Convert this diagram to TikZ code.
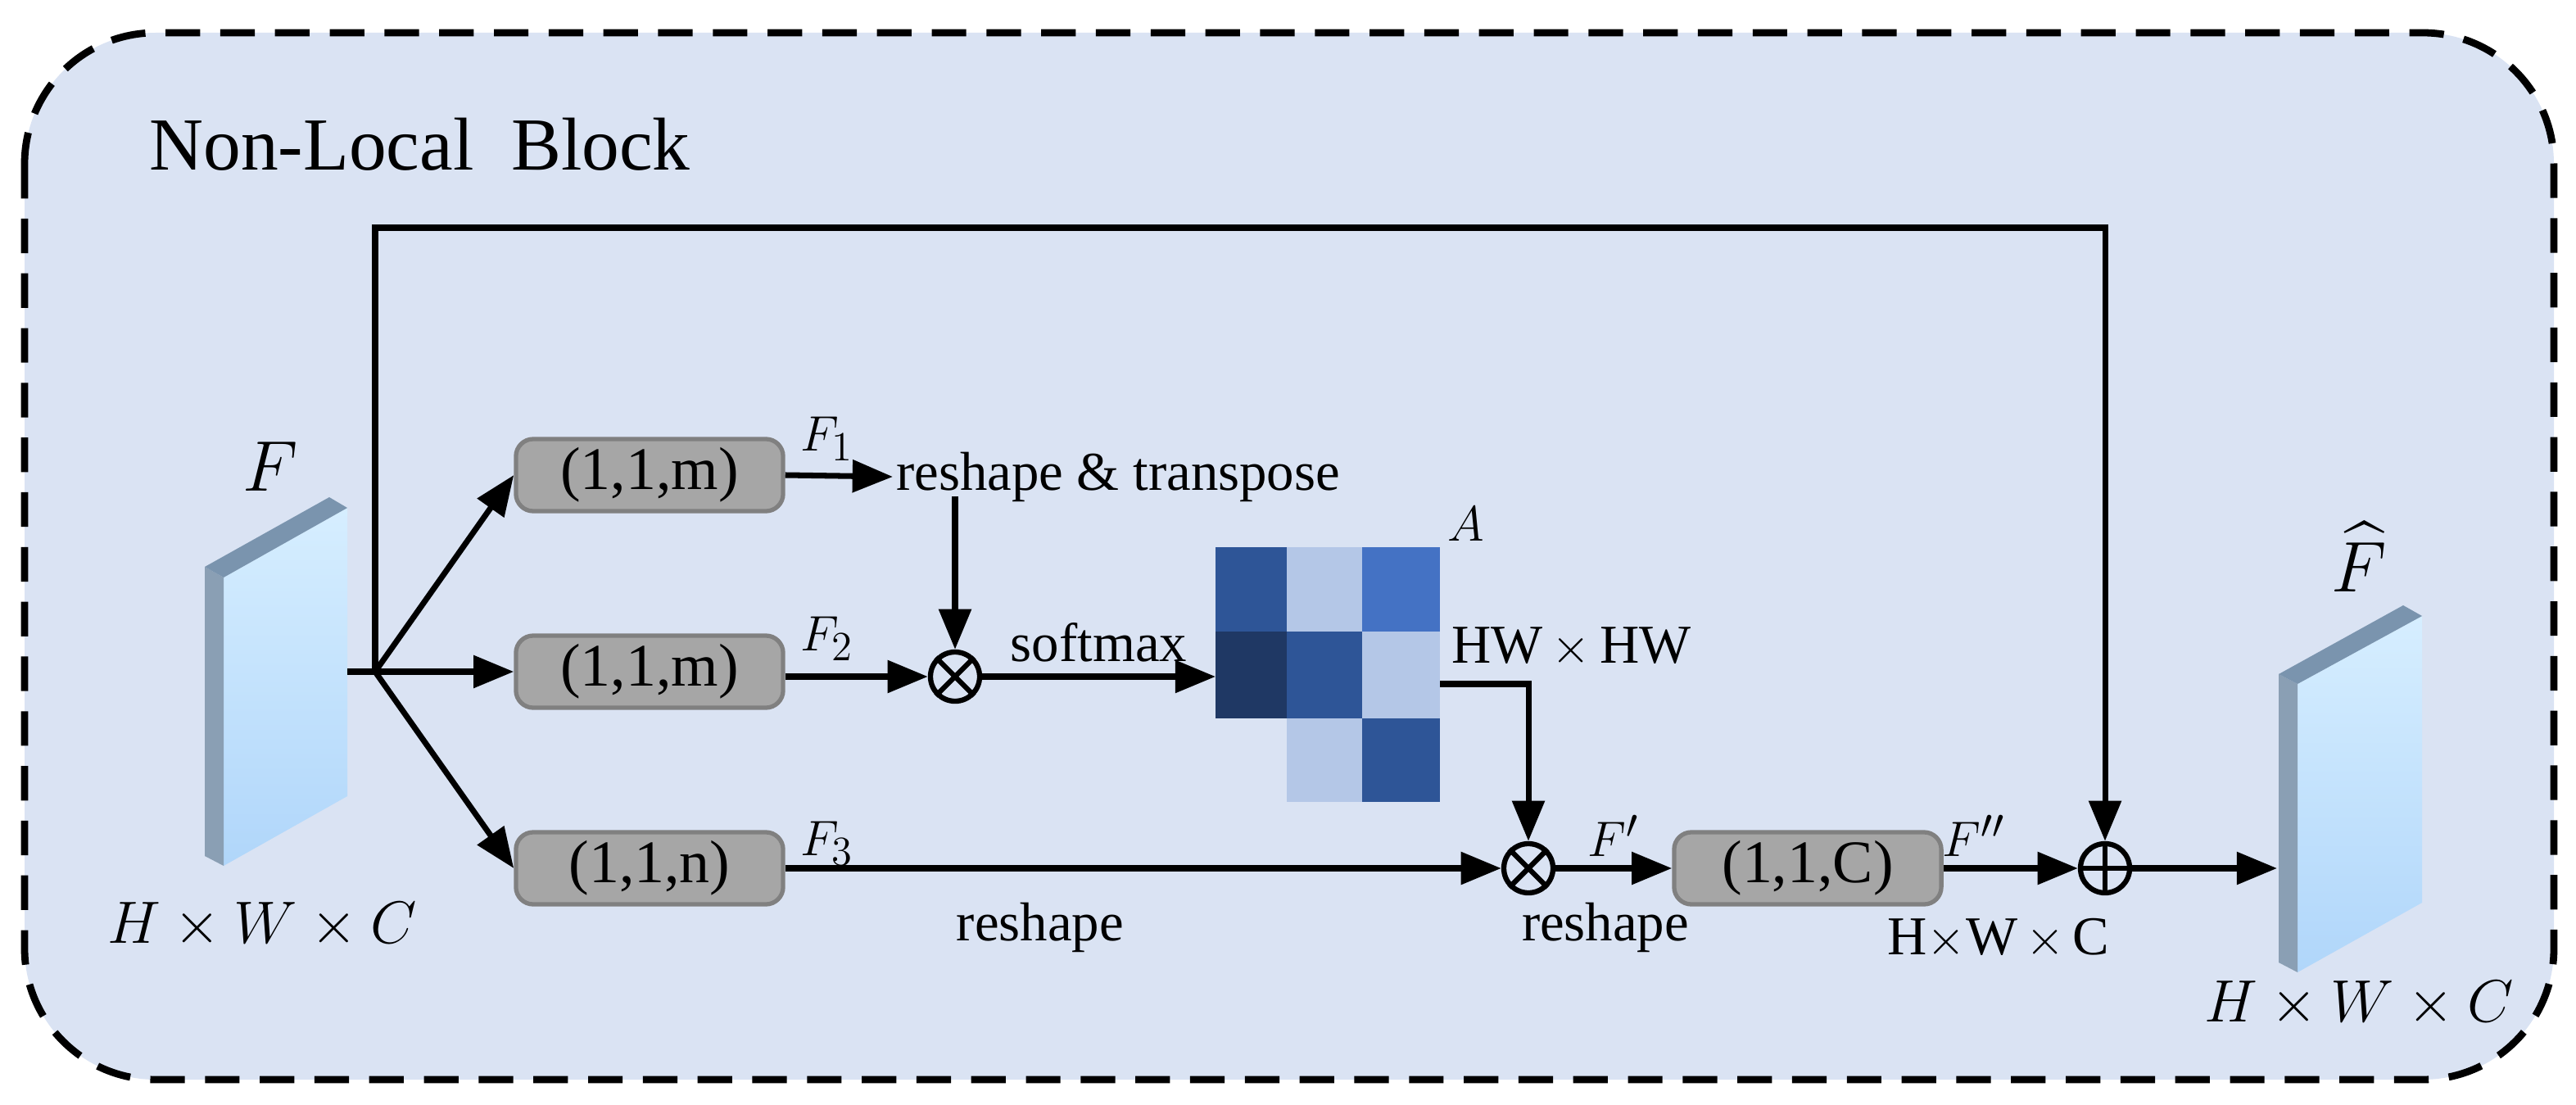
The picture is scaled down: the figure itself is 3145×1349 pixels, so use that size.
\documentclass[tikz,border=0pt]{standalone}
\usepackage{fontspec}
\setmainfont{Liberation Serif}
\usepackage{amsmath}
\usetikzlibrary{arrows.meta}
\definecolor{bg}{HTML}{DAE3F3}
\definecolor{c1}{HTML}{1F3864}
\definecolor{c2}{HTML}{2E5597}
\definecolor{c3}{HTML}{B4C7E7}
\definecolor{c4}{HTML}{4472C4}
\definecolor{sideA}{HTML}{8A9FB4}
\definecolor{topA}{HTML}{7A94AE}
\definecolor{frontT}{HTML}{D6EEFF}
\definecolor{frontB}{HTML}{B0D6FA}
\begin{document}
\begin{tikzpicture}[x=0.01cm,y=-0.01cm,
  box/.style={draw=black!50,fill=black!35,rounded corners=6pt,line width=1.5pt,minimum width=3.26cm,minimum height=0.88cm,inner sep=0pt,font=\fontsize{21}{24}\selectfont},
  lbl/.style={font=\fontsize{19}{23}\selectfont,inner sep=1pt},
  arr/.style={line width=2pt,-{Triangle[length=14pt,width=11pt]}},
  ln/.style={line width=2pt},
  op/.style={circle,draw,line width=1.8pt,minimum size=0.6cm,inner sep=0pt},
  cell/.style={draw=none}]
\useasboundingbox (0,0) rectangle (3145,1349);
\draw[fill=bg,draw=black,line width=2.5pt,dash pattern=on 12pt off 7pt,rounded corners=1.6cm] (30,40) rectangle (3118,1318);
\node[font=\fontsize{26}{30}\selectfont,anchor=west] (title) at (170,176) {Non-Local\ \ Block};
% left slab
\shade[top color=frontT,bottom color=frontB] (273,705) -- (424,620) -- (424,972) -- (273,1057) -- cycle;
\fill[sideA] (250,692) -- (273,705) -- (273,1057) -- (250,1045) -- cycle;
\fill[topA] (250,692) -- (402,607) -- (424,620) -- (273,705) -- cycle;
\node[lbl,font=\fontsize{23}{26}\selectfont] (Fl) at (330,570) {$F$};
\node[lbl,font=\fontsize{22}{26}\selectfont] (HWC1) at (320,1130) {$H\times W\times C$};
% right slab
\shade[top color=frontT,bottom color=frontB] (2805,835) -- (2957,752) -- (2957,1102) -- (2805,1187) -- cycle;
\fill[sideA] (2782,823) -- (2805,835) -- (2805,1187) -- (2782,1175) -- cycle;
\fill[topA] (2782,823) -- (2934,739) -- (2957,752) -- (2805,835) -- cycle;
\node[lbl,font=\fontsize{23}{26}\selectfont] (Fh) at (2880,680) {$\widehat{F}$};
\node[lbl,font=\fontsize{22}{26}\selectfont] (HWC3) at (2880,1226) {$H\times W\times C$};
\coordinate (slabR) at (2780,1060);
\coordinate (slabL) at (424,820);
% boxes
\node[box] (b1) at (793,580) {(1,1,m)};
\node[box] (b2) at (793,820) {(1,1,m)};
\node[box] (b3) at (793,1060) {(1,1,n)};
\node[box] (b4) at (2207,1060) {(1,1,C)};
\coordinate (br) at (458,820);
\draw[ln] (slabL) -- (br);
\draw[arr] (br) -- (b1.west);
\draw[arr] (br) -- (b2.west);
\draw[arr] (br) -- (b3.west);
% skip connection
\coordinate (tl) at (458,278);
\coordinate (tr) at (2570,278);
\node[op] (plus) at (2570,1060) {};
\draw[line width=1.8pt] (plus.north) -- (plus.south) (plus.west) -- (plus.east);
\draw[arr] (br) -- (tl) -- (tr) -- (plus.north);
% first row
\node[lbl,anchor=west] (rt) at (1090,582) {reshape \& transpose};
\draw[arr] (b1.east) -- (rt.west);
\node[lbl] (F1) at (1010,536) {$F_1$};
\node[op] (m1) at (1166,826) {};
\draw[line width=1.8pt] (m1.north west) -- (m1.south east) (m1.north east) -- (m1.south west);
\draw[arr] (1166,606) -- (m1.north);
\draw[arr] (b2.east |- m1.west) -- (m1.west);
\node[lbl] (F2) at (1010,780) {$F_2$};
% matrix
\fill[c2] (1484,668) rectangle (1571,771);
\fill[c3] (1571,668) rectangle (1663,771);
\fill[c4] (1663,668) rectangle (1758,771);
\fill[c1] (1484,771) rectangle (1571,877);
\fill[c2] (1571,771) rectangle (1663,877);
\fill[c3] (1663,771) rectangle (1758,877);
\fill[c3] (1571,877) rectangle (1663,979);
\fill[c2] (1663,877) rectangle (1758,979);
\coordinate (matL) at (1484,826);
\coordinate (matR) at (1758,835);
\node[lbl] (A) at (1790,640) {$A$};
\node[lbl,anchor=west] (hw) at (1768,790) {HW\,$\times$\,HW};
\draw[arr] (m1.east) -- node[lbl,above=3pt] {softmax} (matL);
\node[op] (m2) at (1866,1060) {};
\draw[line width=1.8pt] (m2.north west) -- (m2.south east) (m2.north east) -- (m2.south west);
\draw[arr] (matR) -- (1866,835) -- (m2.north);
% third row
\draw[arr] (b3.east) -- (m2.west);
\node[lbl] (F3) at (1010,1030) {$F_3$};
\node[lbl] (rs1) at (1270,1132) {reshape};
\draw[arr] (m2.east) -- (b4.west);
\node[lbl] (Fp) at (1970,1020) {$F'$};
\node[lbl] (rs2) at (1960,1132) {reshape};
\draw[arr] (b4.east) -- (plus.west);
\node[lbl] (Fpp) at (2410,1020) {$F''$};
\node[lbl] (HWC2) at (2440,1146) {H$\times$W$\,\times\,$C};
\draw[arr] (plus.east) -- (slabR);
\end{tikzpicture}
\end{document}
